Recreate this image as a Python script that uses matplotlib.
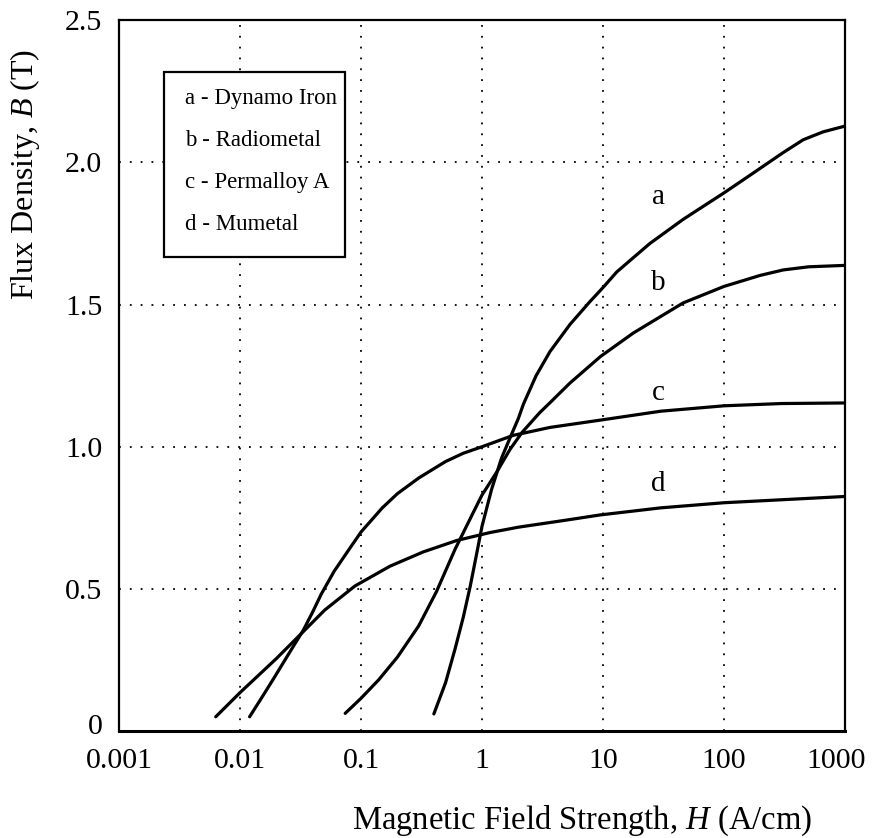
import numpy as np
import matplotlib
matplotlib.use("Agg")
import matplotlib.pyplot as plt
import matplotlib.transforms as mtrans
from matplotlib.patches import Rectangle

plt.rcParams['font.family'] = ['Liberation Serif', 'DejaVu Serif']
plt.rcParams['mathtext.fontset'] = 'custom'
plt.rcParams['mathtext.rm'] = 'Liberation Serif'
plt.rcParams['mathtext.it'] = 'Liberation Serif:italic'

# B-H curves (H in A/cm, B in T)
h_a = [0.40, 0.5, 0.6, 0.7, 0.8, 0.9, 1.0, 1.2, 1.45, 1.7, 2.0, 2.2, 2.8, 3.65, 5.33, 7.78, 10, 13, 17.8, 24.4, 46, 100, 164, 309, 452, 662, 1000]
b_a = [0.06, 0.17, 0.29, 0.40, 0.51, 0.62, 0.72, 0.85, 0.96, 1.03, 1.10, 1.15, 1.25, 1.335, 1.43, 1.51, 1.56, 1.615, 1.665, 1.715, 1.80, 1.893, 1.955, 2.035, 2.08, 2.108, 2.128]

h_b = [0.074, 0.1, 0.14, 0.2, 0.3, 0.42, 0.6, 0.85, 1.0, 1.32, 1.7, 2.14, 3.0, 3.65, 5.33, 9.57, 17.8, 46, 100, 200, 309, 500, 1000]
b_b = [0.062, 0.115, 0.18, 0.26, 0.37, 0.49, 0.64, 0.77, 0.83, 0.91, 0.99, 1.05, 1.12, 1.155, 1.224, 1.318, 1.40, 1.506, 1.564, 1.603, 1.622, 1.633, 1.638]

h_c = [0.012, 0.015, 0.019, 0.026, 0.0334, 0.04, 0.047, 0.06, 0.08, 0.1, 0.15, 0.2, 0.3, 0.5, 0.7, 1.0, 1.81, 3.65, 10, 30, 100, 300, 1000]
b_c = [0.05, 0.115, 0.185, 0.28, 0.355, 0.42, 0.482, 0.562, 0.64, 0.70, 0.785, 0.835, 0.89, 0.948, 0.977, 1.0, 1.04, 1.068, 1.095, 1.125, 1.144, 1.152, 1.154]

h_d = [0.0063, 0.01, 0.02, 0.0334, 0.05, 0.089, 0.174, 0.327, 0.617, 1.16, 2, 5, 9.44, 30, 100, 1000]
b_d = [0.05, 0.135, 0.255, 0.35, 0.425, 0.51, 0.58, 0.63, 0.67, 0.698, 0.717, 0.742, 0.76, 0.785, 0.803, 0.825]

curve_tags = ['a', 'b', 'c', 'd']
tag_y = [1.88, 1.577, 1.19, 0.87]
tag_x = 28.5
legend_lines = ['a - Dynamo Iron', 'b - Radiometal', 'c - Permalloy A', 'd - Mumetal']

x_ticks = [0.001, 0.01, 0.1, 1, 10, 100, 1000]
x_labels = ['0.001', '0.01', '0.1', '1', '10', '100', '1000']
y_ticks = [0, 0.5, 1.0, 1.5, 2.0, 2.5]
y_labels = ['0', '0.5', '1.0', '1.5', '2.0', '2.5']

fig = plt.figure(figsize=(8.72, 8.38), dpi=100)
ax = fig.add_axes([0.1365, 0.1277, 0.8325, 0.848])

for h, b in [(h_a, b_a), (h_b, b_b), (h_c, b_c), (h_d, b_d)]:
    ax.plot(h, b, color='black', lw=2.3, solid_capstyle='round')

ax.set_xscale('log')
ax.set_xlim(0.001, 1000)
ax.set_ylim(0, 2.5)
ax.set_xticks(x_ticks)
ax.set_xticklabels(x_labels)
ax.set_yticks(y_ticks)
ax.set_yticklabels(y_labels)
ax.minorticks_off()
ax.tick_params(length=0, labelsize=21.5, pad=12)
ax.grid(True, color='black', lw=1.3, linestyle=(0, (1, 5)))
for s in ax.spines.values():
    s.set_linewidth(1.6)
ax.spines['bottom'].set_linewidth(2.2)

# nudge the end labels like in the original
lab = ax.get_xticklabels()[-1]
lab.set_transform(lab.get_transform() + mtrans.ScaledTranslation(-0.09, 0, fig.dpi_scale_trans))
lab = ax.get_yticklabels()[0]
lab.set_transform(lab.get_transform() + mtrans.ScaledTranslation(0, 0.07, fig.dpi_scale_trans))

for t, y in zip(curve_tags, tag_y):
    ax.text(tag_x, y, t, fontsize=21, ha='center', va='center')

# legend box
ax.add_patch(Rectangle((0.062, 0.667), 0.249, 0.26, transform=ax.transAxes,
                       facecolor='white', edgecolor='black', lw=1.6, zorder=5))
for i, s in enumerate(legend_lines):
    ax.text(0.091, 0.890 - i * 0.059, s, transform=ax.transAxes,
            fontsize=16.5, va='center', ha='left', zorder=6)

fig.text(0.029, 0.792, 'Flux Density, $B$ (T)', rotation=90, fontsize=23,
         ha='center', va='center')
fig.text(0.667, 0.021, 'Magnetic Field Strength, $H$ (A/cm)', fontsize=23.5,
         ha='center', va='center')

fig.savefig('out.png', dpi=100)
